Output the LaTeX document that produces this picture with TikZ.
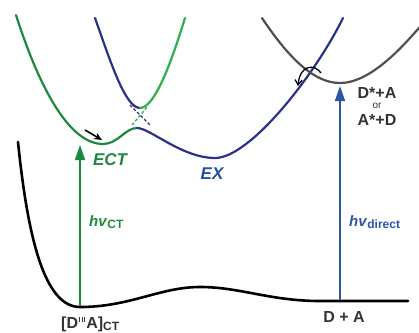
\documentclass[tikz,border=0pt]{standalone}
\usepackage{fontspec}
\setmainfont{Liberation Sans}
\usetikzlibrary{arrows.meta}
\definecolor{ctgreen}{HTML}{1B8A3E}
\definecolor{ltgreen}{HTML}{2DB04B}
\definecolor{exblue}{HTML}{2A3288}
\definecolor{arrblue}{HTML}{2D55A6}
\definecolor{extxt}{HTML}{2050A4}
\definecolor{curvegray}{HTML}{505050}
\definecolor{txtgray}{HTML}{333333}
\newcommand{\tk}{\rule[6.5pt]{1.2pt}{4.5pt}}
\tikzset{
  surf/.style={line width=2.2pt, line cap=round},
  ground/.style={line width=2.6pt, line cap=round, black},
  absarrow/.style={line width=1.6pt, -{Triangle[width=10pt,length=15pt]}},
  lbl/.style={font=\bfseries\fontsize{16}{18}\selectfont, text=txtgray, inner sep=0pt},
  dsh/.style={line width=1.3pt, dash pattern=on 3pt off 2pt}
}
\begin{document}
\begin{tikzpicture}[x=1pt,y=-1pt]
\useasboundingbox (0,0) rectangle (419,332);
\clip (0,0) rectangle (419,332);
% ground state
\draw[ground] (18,142) .. controls (28,240) and (45,307) .. (80,307)
  .. controls (130,307) and (160,287) .. (200,287)
  .. controls (240,287) and (270,301) .. (320,301) -- (408,301);
% lower adiabatic surface: CT part (green) then EX part (blue)
\draw[surf, ctgreen] (16,15) .. controls (40,90) and (70,144) .. (103,144)
  .. controls (118,144) and (125,128) .. (137,128);
\draw[surf, exblue] (137,128) .. controls (150,128) and (182,158) .. (215,158)
  .. controls (250,158) and (315,75) .. (343,18);
% upper adiabatic surface
\draw[surf, exblue] (95,18) .. controls (110,60) and (125,108) .. (140,108);
\draw[surf, ltgreen] (140,108) .. controls (155,108) and (172,60) .. (185,18);
% diabatic dashed crossing
\draw[dsh, exblue] (130,105) -- (150,125);
\draw[dsh, ltgreen] (132,125) -- (148,106);
% locally excited surface
\draw[surf, curvegray] (262,18) .. controls (290,60) and (315,83) .. (340,83)
  .. controls (370,83) and (402,48) .. (424,22);
% relaxation arrows
\coordinate (ra1) at (85,130);
\coordinate (ra2) at (102,140);
\draw[line width=1.6pt, -{Stealth[width=7pt,length=8pt]}] (ra1) -- (ra2);
\coordinate (ca1) at (321,73);
\coordinate (ca2) at (298,86);
\draw[line width=1.3pt, -{Straight Barb[width=7pt,length=5pt]}] (ca1) .. controls (315,64) and (300,64) .. (ca2);
% vertical excitation arrows
\coordinate (gct) at (80,306);
\coordinate (ect) at (80,145);
\draw[absarrow, ctgreen] (gct) -- (ect);
\coordinate (gda) at (340,300);
\coordinate (lea) at (340,86);
\draw[absarrow, arrblue] (gda) -- (lea);
% labels
\node[font=\bfseries\itshape\fontsize{17}{19}\selectfont, text=ctgreen, inner sep=0pt] (lect) at (110,160) {ECT};
\node[font=\bfseries\itshape\fontsize{17}{19}\selectfont, text=extxt, inner sep=0pt] (lex) at (212,174) {EX};
\node[font=\bfseries\fontsize{15}{17}\selectfont, text=ctgreen, inner sep=0pt, anchor=west] (lhct) at (89,222) {\textit{hv}\raisebox{-0.3ex}{\fontsize{12}{14}\selectfont CT}};
\node[font=\bfseries\fontsize{15}{17}\selectfont, text=arrblue, inner sep=0pt, anchor=west] (lhdir) at (349,222) {\textit{hv}\raisebox{-0.3ex}{\fontsize{12}{14}\selectfont direct}};
\node[lbl] (lda1) at (377,93) {D*+A};
\node[font=\fontsize{10}{11}\selectfont, text=txtgray, inner sep=0pt] (lor) at (377,106) {or};
\node[lbl] (lad) at (377,120) {A*+D};
\node[lbl] (lgda) at (344,317) {D + A};
\node[lbl, anchor=west] (lgct) at (61,324) {[D\kern1pt\tk\kern1.3pt\tk\kern1.3pt\tk\kern1pt A]\raisebox{-0.3ex}{\fontsize{12}{14}\selectfont CT}};
\end{tikzpicture}
\end{document}
